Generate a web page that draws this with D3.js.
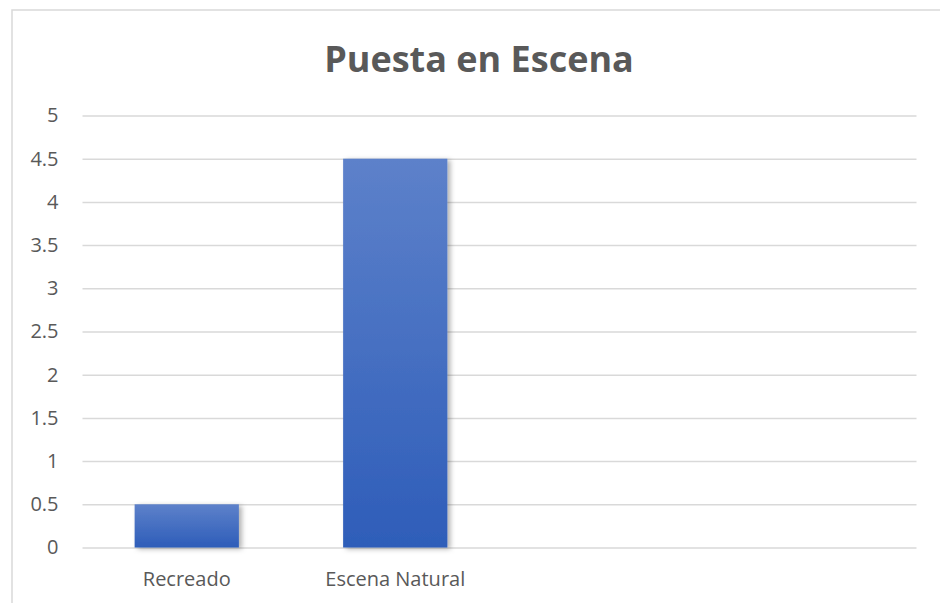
<!DOCTYPE html>
<html>
<head>
<meta charset="utf-8">
<script src="https://cdn.jsdelivr.net/npm/d3@7"></script>
<style>
  html, body { margin: 0; padding: 0; background: #fff; }
  svg { display: block; }
</style>
</head>
<body>
<svg id="chart" width="940" height="603"></svg>
<script>
// Chart data
const categories = ["Recreado", "Escena Natural", "", " "];
const values = [0.5, 4.5, null, null];
const yTicks = [0, 0.5, 1, 1.5, 2, 2.5, 3, 3.5, 4, 4.5, 5];
const title = "Puesta en Escena";

const W = 940, H = 603;
const margin = { left: 82.5, right: 23.5, top: 115.5, bottom: 55.5 };
const font = "'Open Sans', 'Noto Sans', sans-serif";
const textColor = "#595959";

const svg = d3.select("#chart");

// Chart frame
svg.append("rect")
  .attr("x", 12).attr("y", 10)
  .attr("width", W).attr("height", H)
  .attr("fill", "#fff")
  .attr("stroke", "#d9d9d9").attr("stroke-width", 1.5);

const defs = svg.append("defs");
const grad = defs.append("linearGradient")
  .attr("id", "barFill").attr("x1", 0).attr("y1", 0).attr("x2", 0).attr("y2", 1);
grad.append("stop").attr("offset", "0%").attr("stop-color", "#5d81ca");
grad.append("stop").attr("offset", "100%").attr("stop-color", "#2e5db9");

const shadow = defs.append("filter").attr("id", "barShadow")
  .attr("x", "-20%").attr("y", "-20%").attr("width", "140%").attr("height", "140%");
shadow.append("feDropShadow")
  .attr("dx", 3).attr("dy", 1.5).attr("stdDeviation", 2.5)
  .attr("flood-color", "#000").attr("flood-opacity", 0.3);

const x = d3.scaleBand()
  .domain(categories)
  .range([margin.left, W - margin.right])
  .paddingInner(0.5).paddingOuter(0.25);

const y = d3.scaleLinear()
  .domain([0, 5])
  .range([H - margin.bottom, margin.top]);

// Gridlines and y tick labels
const yAxis = d3.axisLeft(y)
  .tickValues(yTicks)
  .tickSize(-(W - margin.right - margin.left))
  .tickPadding(24)
  .tickFormat(d3.format("~g"));

const gy = svg.append("g")
  .attr("transform", `translate(${margin.left},0)`)
  .call(yAxis);
gy.select(".domain").remove();
gy.selectAll(".tick line").attr("stroke", "#d9d9d9").attr("stroke-width", 1.5);
gy.selectAll(".tick text")
  .attr("fill", textColor)
  .style("font-family", font)
  .style("font-size", "20px");

// Bars
svg.append("g").selectAll("rect")
  .data(categories.map((c, i) => ({ c, v: values[i] })).filter(d => d.v != null))
  .join("rect")
  .attr("x", d => x(d.c))
  .attr("width", x.bandwidth())
  .attr("y", d => y(d.v))
  .attr("height", d => y(0) - y(d.v))
  .attr("fill", "url(#barFill)")
  .attr("filter", "url(#barShadow)");

// Category axis
const xAxis = d3.axisBottom(x).tickSize(0).tickPadding(24);
const gx = svg.append("g")
  .attr("transform", `translate(0,${y(0)})`)
  .call(xAxis);
gx.select(".domain").remove();
gx.selectAll(".tick text")
  .attr("fill", textColor)
  .style("font-family", font)
  .style("font-size", "20px");

// Title
svg.append("text")
  .attr("x", 479).attr("y", 72)
  .attr("text-anchor", "middle")
  .attr("fill", textColor)
  .style("font-family", font)
  .style("font-weight", "bold")
  .style("font-size", "36px")
  .text(title);
</script>
</body>
</html>
